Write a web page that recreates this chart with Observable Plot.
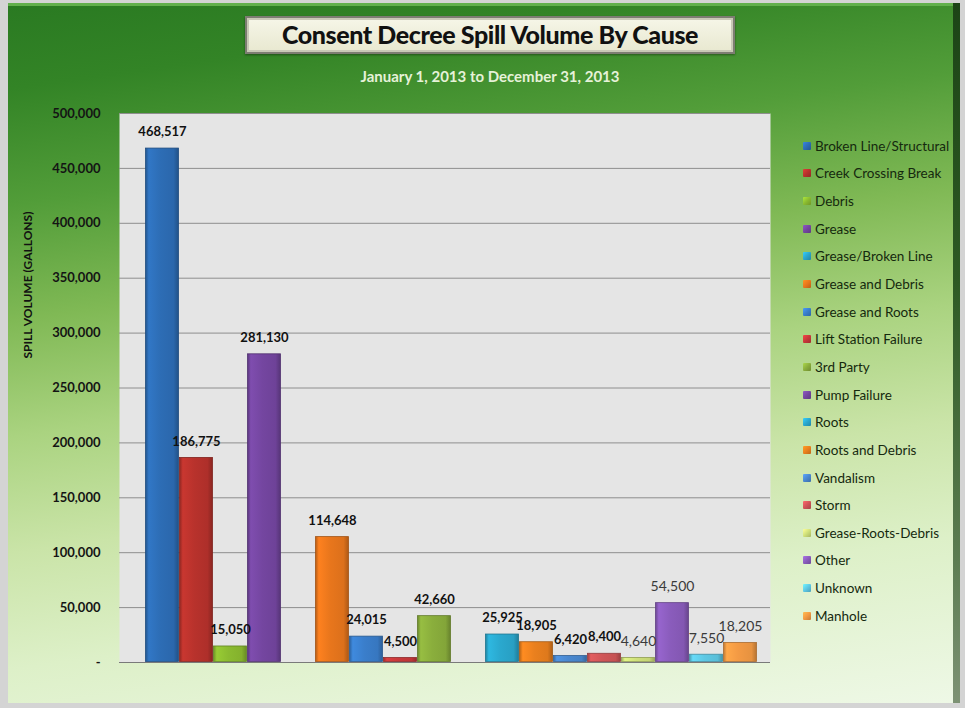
<!DOCTYPE html>
<html>
<head>
<meta charset="utf-8">
<script src="https://cdn.jsdelivr.net/npm/d3@7"></script>
<script src="https://cdn.jsdelivr.net/npm/@observablehq/plot@0.6"></script>
<style>
  html, body { margin: 0; padding: 0; background: #d6d6d6; }
  #wrap { position: relative; width: 965px; height: 708px; overflow: hidden; background: #d4d4d4; font-family: Lato, "Open Sans", sans-serif; }
  #panel { position: absolute; left: 8px; top: 3px; width: 945px; height: 700px;
    background: linear-gradient(172deg, #2a7a22 0%, #338426 10%, #529d39 24%, #80b955 38%, #aad380 52%, #cae4a8 66%, #ddf0c8 80%, #eef8e6 100%);
    border-top: 3px solid #62b04c; box-sizing: border-box; }
  #rshadow { position: absolute; left: 953px; top: 3px; width: 7px; height: 700px;
    background: linear-gradient(180deg, #1c4416 0%, #2e5a24 40%, #5d7d52 80%, #7d9274 100%); }
  #title { position: absolute; left: 245px; top: 16px; width: 490px; height: 38px; box-sizing: border-box;
    background: linear-gradient(180deg, #f6f6e8, #e8e8d0); border: 2px solid #7d7d72;
    box-shadow: inset 0 0 0 2px #c9c9b6, 0 1px 2px rgba(0,0,0,0.4);
    font: 900 25px Lato, sans-serif; color: #111; text-align: center; line-height: 33px; letter-spacing: -0.4px; }
  #subtitle { position: absolute; left: 245px; width: 490px; top: 67px; text-align: center;
    font: bold 15px Lato, sans-serif; color: #e6f2d8; }
  #ylabel { position: absolute; left: 27px; top: 285px; transform: translate(-50%, -50%) rotate(-90deg);
    white-space: nowrap; font: bold 12px Lato, sans-serif; color: #111; }
  #legend { position: absolute; left: 803px; top: 132px; }
  .item { height: 27.65px; display: flex; align-items: center; font: 13.5px Lato, sans-serif; color: #15290e; white-space: nowrap; }
  .sw { width: 8px; height: 8px; margin-right: 4px; border-radius: 1px; }
  #chart { position: absolute; left: 0; top: 0; }
</style>
</head>
<body>
<div id="wrap">
  <div id="panel"></div>
  <div id="rshadow"></div>
  <div id="title">Consent Decree Spill Volume By Cause</div>
  <div id="subtitle">January 1, 2013 to December 31, 2013</div>
  <div id="ylabel">SPILL VOLUME (GALLONS)</div>
  <div id="legend"></div>
  <div id="chart"></div>
</div>
<script>
const causes = [
  "Broken Line/Structural", "Creek Crossing Break", "Debris", "Grease",
  "Grease/Broken Line", "Grease and Debris", "Grease and Roots", "Lift Station Failure",
  "3rd Party", "Pump Failure", "Roots", "Roots and Debris", "Vandalism", "Storm",
  "Grease-Roots-Debris", "Other", "Unknown", "Manhole"
];
const volumes = [468517, 186775, 15050, 281130, 0, 114648, 24015, 4500, 42660, 0,
  25925, 18905, 6420, 8400, 4640, 54500, 7550, 18205];
const colors = [
  "#2d6db5", "#b8322c", "#8bbb30", "#7446a0", "#2aa6cc", "#e8761c",
  "#3a7ecb", "#c8383a", "#8aae3c", "#7446a0", "#2aa8ce", "#ea801e",
  "#4a88d0", "#d05558", "#cfe07a", "#8a5cbc", "#5ec8e4", "#f39a44"
];
const yTicks = [0, 50000, 100000, 150000, 200000, 250000, 300000, 350000, 400000, 450000, 500000];

const data = causes.map((c, i) => ({cause: c, value: volumes[i], idx: i})).filter(d => d.value > 0);
const fmt = d3.format(",");

const svg = Plot.plot({
  width: 965, height: 708,
  marginTop: 113, marginBottom: 46, marginLeft: 119, marginRight: 195,
  style: {background: "transparent", fontFamily: "Lato, sans-serif", fontSize: "13px", fontWeight: "bold", color: "#141414", overflow: "visible"},
  x: {domain: causes, range: [145, 757], padding: 0, axis: null},
  y: {domain: [0, 500000], ticks: yTicks, tickFormat: d => d === 0 ? "-" : fmt(d), tickSize: 0, tickPadding: 19, label: null},
  color: {domain: causes, range: causes.map((c, i) => `url(#g${i})`)},
  marks: [
    Plot.frame({fill: "#e5e5e5", stroke: null}),
    Plot.gridY(yTicks.filter(d => d > 0), {stroke: "#8e8e8e", strokeOpacity: 1}),
    Plot.ruleY([0], {stroke: "#7a7a7a"}),
    Plot.barY(data, {x: "cause", y: "value", fill: "cause", stroke: d => d3.color(colors[d.idx]).darker(1).formatHex(), strokeWidth: 0.8, inset: 0.5}),
    Plot.text(data.filter(d => d.idx < 14), {x: "cause", y: "value", text: d => fmt(d.value), dy: -16, fill: "#111", fontWeight: "bold", fontSize: 13}),
    Plot.text(data.filter(d => d.idx >= 14), {x: "cause", y: "value", text: d => fmt(d.value), dy: -16, fill: "#3a3a3a", fontWeight: "normal", fontSize: 14})
  ]
});

// gradients for the 3D-looking bars
const defs = d3.select(svg).insert("defs", ":first-child");
colors.forEach((c, i) => {
  const base = d3.color(c);
  const g = defs.append("linearGradient").attr("id", `g${i}`).attr("x1", 0).attr("x2", 1).attr("y1", 0).attr("y2", 0);
  [[0, base.darker(0.7)], [0.1, base.brighter(0.25)], [0.45, base], [0.85, base.darker(0.15)], [1, base.darker(0.8)]]
    .forEach(([o, col]) => g.append("stop").attr("offset", o).attr("stop-color", col.formatHex()));
});

document.getElementById("chart").appendChild(svg);

const legend = d3.select("#legend");
causes.forEach((c, i) => {
  const it = legend.append("div").attr("class", "item");
  it.append("div").attr("class", "sw").style("background", `linear-gradient(135deg, ${d3.color(colors[i]).brighter(0.6).formatHex()}, ${colors[i]} 50%, ${d3.color(colors[i]).darker(0.6).formatHex()})`);
  it.append("span").text(c);
});
</script>
</body>
</html>
